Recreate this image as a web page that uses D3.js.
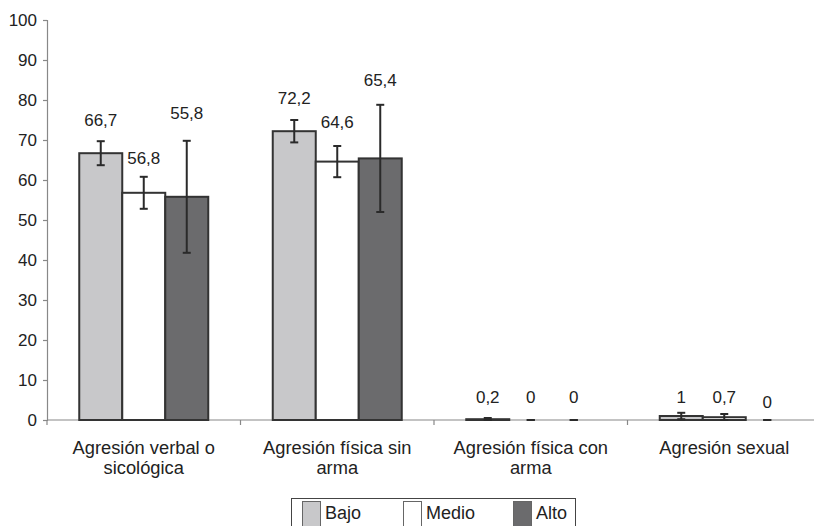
<!DOCTYPE html>
<html><head><meta charset="utf-8">
<script src="https://cdn.jsdelivr.net/npm/d3@7"></script>
<style>body{margin:0;background:#fff}svg{display:block}text{font-family:'Liberation Sans',Arial,sans-serif}</style>
</head><body><svg id="c" width="814" height="526"></svg>
<script>
const categories = [["Agresión verbal o","sicológica"],["Agresión física sin","arma"],["Agresión física con","arma"],["Agresión sexual"]];
const seriesNames = ["Bajo","Medio","Alto"];
const seriesColors = ["#c8c8ca","#ffffff","#6b6b6d"];
const bajo  = [66.7, 72.2, 0.2, 1];
const medio = [56.8, 64.6, 0, 0.7];
const alto  = [55.8, 65.4, 0, 0];
const errBajo  = [3, 2.8, 0.3, 0.8];
const errMedio = [4, 3.9, 0, 0.8];
const errAlto  = [14, 13.4, 0, 0];
const labelPosBajo  = [75, 80.5, 5.7, 5.7];
const labelPosMedio = [65.5, 74.5, 5.7, 5.7];
const labelPosAlto  = [76.7, 85, 5.7, 4.5];
const labelBajo  = ["66,7","72,2","0,2","1"];
const labelMedio = ["56,8","64,6","0","0,7"];
const labelAlto  = ["55,8","65,4","0","0"];
const yTicks = [0,10,20,30,40,50,60,70,80,90,100];

const values = [bajo, medio, alto];
const errs = [errBajo, errMedio, errAlto];
const lpos = [labelPosBajo, labelPosMedio, labelPosAlto];
const labs = [labelBajo, labelMedio, labelAlto];

const svg = d3.select("#c");
const tc = "#222";
const fs = 17;
const y = d3.scaleLinear().domain([0,100]).range([420,20]);
const x0 = d3.scaleBand().domain(d3.range(4)).range([47,821]);
const x1 = d3.scaleBand().domain(d3.range(3)).range([0,129]);
const off = (x0.bandwidth()-129)/2;

// y axis
const ya = svg.append("g").attr("transform","translate(47,0)")
  .call(d3.axisLeft(y).tickValues(yTicks).tickSize(4).tickPadding(6).tickFormat(d3.format("d")));
ya.select(".domain").attr("stroke","#888").attr("stroke-width",1.2);
ya.selectAll(".tick line").attr("stroke","#888").attr("stroke-width",1.2);
ya.selectAll("text").attr("font-family",null).attr("font-size",fs).attr("fill",tc);

// x axis
const xa = svg.append("g").attr("transform","translate(0,420)");
xa.append("line").attr("x1",47).attr("x2",814).attr("y1",0).attr("y2",0).attr("stroke","#888").attr("stroke-width",1.2);
d3.range(5).forEach(i=>{
  const xx = i<4 ? x0(i) : x0(3)+x0.bandwidth();
  xa.append("line").attr("x1",xx).attr("x2",xx).attr("y1",0).attr("y2",5).attr("stroke","#888").attr("stroke-width",1.2);
});
categories.forEach((lines,i)=>{
  const t = svg.append("text").attr("x",x0(i)+x0.bandwidth()/2).attr("y",454)
    .attr("text-anchor","middle").attr("font-size",18.3).attr("fill",tc);
  lines.forEach((l,k)=>t.append("tspan").attr("x",x0(i)+x0.bandwidth()/2).attr("dy",k?20:0).text(l));
});

// bars
for (let s=0;s<3;s++){
  for (let i=0;i<4;i++){
    const v = values[s][i];
    const bx = x0(i)+off+x1(s);
    const bw = x1.bandwidth();
    if (v>0){
      svg.append("rect").attr("x",bx).attr("y",y(v)).attr("width",bw).attr("height",y(0)-y(v))
        .attr("fill",seriesColors[s]).attr("stroke","#333").attr("stroke-width",2);
    }
    const cx = bx+bw/2, e = errs[s][i];
    const g = svg.append("g").attr("stroke","#2a2a2a").attr("stroke-width",2);
    g.append("line").attr("x1",cx).attr("x2",cx).attr("y1",y(v+e)).attr("y2",y(Math.max(0,v-e)));
    g.append("line").attr("x1",cx-4).attr("x2",cx+4).attr("y1",y(v+e)).attr("y2",y(v+e));
    g.append("line").attr("x1",cx-4).attr("x2",cx+4).attr("y1",y(Math.max(0,v-e))).attr("y2",y(Math.max(0,v-e)));
    svg.append("text").attr("x",cx).attr("y",y(lpos[s][i])).attr("dy","0.35em")
      .attr("text-anchor","middle").attr("font-size",fs).attr("fill",tc)
      .text(labs[s][i]);
  }
}

// legend
const lg = svg.append("g");
lg.append("rect").attr("x",291.5).attr("y",498.5).attr("width",284).attr("height",40)
  .attr("fill","#fff").attr("stroke","#444").attr("stroke-width",1);
const lx = [302,403,513];
seriesNames.forEach((n,s)=>{
  lg.append("rect").attr("x",lx[s]+0.5).attr("y",501.5).attr("width",18).attr("height",30)
    .attr("fill",seriesColors[s]).attr("stroke","#666").attr("stroke-width",1);
  lg.append("text").attr("x",lx[s]+23).attr("y",519).attr("font-size",18)
    .attr("fill",tc).text(n);
});
</script></body></html>
